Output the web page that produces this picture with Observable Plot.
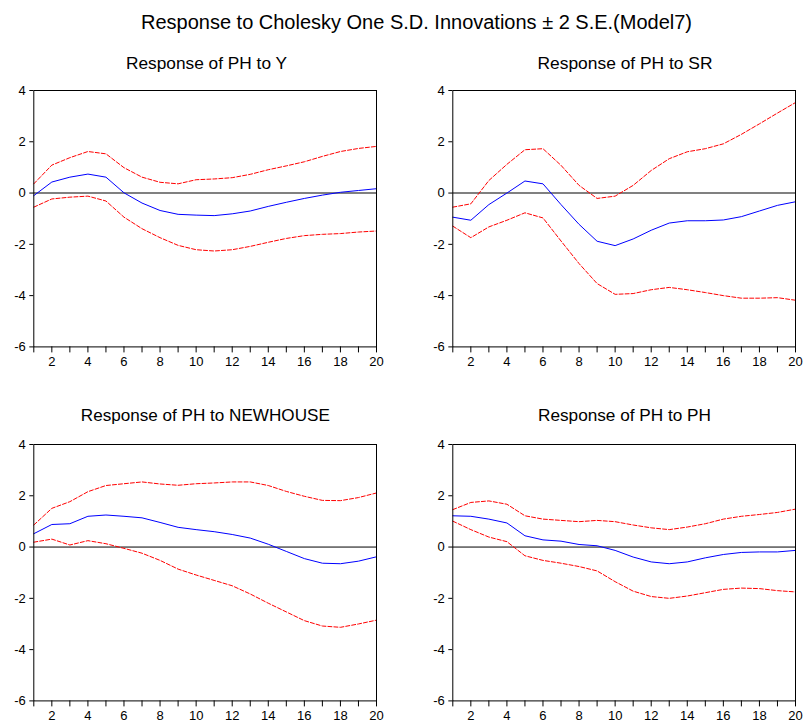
<!DOCTYPE html>
<html>
<head>
<meta charset="utf-8">
<script src="https://cdn.jsdelivr.net/npm/d3@7"></script>
<script src="https://cdn.jsdelivr.net/npm/@observablehq/plot@0.6"></script>
<style>
  html, body { margin: 0; padding: 0; background: #fff; overflow: hidden; }
  #root { position: relative; width: 805px; height: 722px; background: #fff; }
  .panel { position: absolute; }
  #titles { position: absolute; left: 0; top: 0; pointer-events: none; }
</style>
</head>
<body>
<div id="root"></div>
<script>
// ---- data ----
const periods = [1,2,3,4,5,6,7,8,9,10,11,12,13,14,15,16,17,18,19,20];

const mainTitle = "Response to Cholesky One S.D. Innovations \u00b1 2 S.E.(Model7)";
const panelTitles = ["Response of PH to Y", "Response of PH to SR", "Response of PH to NEWHOUSE", "Response of PH to PH"];

const yResp  = [-0.10,0.43,0.62,0.74,0.62,0.01,-0.39,-0.68,-0.83,-0.86,-0.88,-0.81,-0.70,-0.52,-0.36,-0.21,-0.08,0.03,0.10,0.17];
const yUpper = [0.36,1.09,1.38,1.62,1.53,0.99,0.62,0.42,0.36,0.52,0.55,0.60,0.73,0.91,1.06,1.22,1.43,1.62,1.74,1.82];
const yLower = [-0.55,-0.23,-0.16,-0.12,-0.31,-0.94,-1.39,-1.74,-2.04,-2.21,-2.26,-2.21,-2.08,-1.92,-1.77,-1.66,-1.61,-1.58,-1.52,-1.48];

const srResp  = [-0.94,-1.06,-0.45,0.00,0.47,0.36,-0.45,-1.22,-1.88,-2.05,-1.79,-1.45,-1.17,-1.08,-1.08,-1.05,-0.92,-0.70,-0.48,-0.34];
const srUpper = [-0.55,-0.42,0.49,1.12,1.69,1.73,1.08,0.30,-0.21,-0.12,0.30,0.88,1.34,1.61,1.73,1.92,2.29,2.70,3.12,3.53];
const srLower = [-1.29,-1.74,-1.32,-1.06,-0.77,-0.97,-1.87,-2.75,-3.53,-3.95,-3.92,-3.77,-3.68,-3.77,-3.88,-4.00,-4.10,-4.10,-4.08,-4.18];

const nhResp  = [0.52,0.88,0.91,1.20,1.25,1.20,1.14,0.96,0.77,0.68,0.60,0.49,0.35,0.11,-0.17,-0.45,-0.63,-0.65,-0.55,-0.38];
const nhUpper = [0.86,1.51,1.77,2.16,2.40,2.47,2.54,2.46,2.41,2.47,2.50,2.54,2.54,2.40,2.17,1.98,1.82,1.81,1.93,2.11];
const nhLower = [0.19,0.31,0.08,0.25,0.13,-0.05,-0.24,-0.52,-0.86,-1.09,-1.30,-1.51,-1.83,-2.19,-2.53,-2.87,-3.08,-3.13,-3.00,-2.85];

const phResp  = [1.22,1.20,1.09,0.94,0.44,0.28,0.23,0.10,0.05,-0.13,-0.39,-0.58,-0.65,-0.58,-0.42,-0.29,-0.21,-0.19,-0.19,-0.13];
const phUpper = [1.46,1.74,1.80,1.67,1.22,1.09,1.04,0.99,1.04,0.99,0.86,0.75,0.68,0.78,0.91,1.09,1.20,1.27,1.35,1.48];
const phLower = [1.01,0.68,0.39,0.21,-0.34,-0.52,-0.63,-0.76,-0.93,-1.35,-1.72,-1.93,-2.00,-1.91,-1.78,-1.65,-1.60,-1.62,-1.70,-1.75];

const yTicks = [-6,-4,-2,0,2,4];

// ---- layout ----
const root = document.getElementById("root");
const panels = [
  {resp: yResp,  up: yUpper,  lo: yLower,  left: 0,     top: 80,    zero: {stroke:"#808080", strokeWidth:2}},
  {resp: srResp, up: srUpper, lo: srLower, left: 419.4, top: 80,    zero: {stroke:"#808080", strokeWidth:2}},
  {resp: nhResp, up: nhUpper, lo: nhLower, left: 0,     top: 434.3, zero: {stroke:"#000", strokeWidth:1}},
  {resp: phResp, up: phUpper, lo: phLower, left: 419.4, top: 434.3, zero: {stroke:"#000", strokeWidth:1}}
];

panels.forEach(p => {
  const rows = periods.map((t, i) => ({t, resp: p.resp[i], up: p.up[i], lo: p.lo[i]}));
  const chart = Plot.plot({
    width: 390, height: 287,
    marginLeft: 33.3, marginRight: 14, marginTop: 10, marginBottom: 20.6,
    style: {fontFamily: "'Liberation Sans', Arial, sans-serif", fontSize: "13px", color: "#000", background: "#fff", overflow: "visible"},
    x: {domain: [1, 20]},
    y: {domain: [-6, 4]},
    marks: [
      Plot.ruleY([0], p.zero),
      Plot.line(rows, {x: "t", y: "up", stroke: "#ff0000", strokeWidth: 1, strokeDasharray: "4,2"}),
      Plot.line(rows, {x: "t", y: "lo", stroke: "#ff0000", strokeWidth: 1, strokeDasharray: "4,2"}),
      Plot.line(rows, {x: "t", y: "resp", stroke: "#0000ff", strokeWidth: 1}),
      Plot.frame({stroke: "#000", strokeWidth: 1}),
      Plot.axisX({ticks: periods, tickFormat: d => d % 2 === 0 ? String(d) : "", tickSize: 6, tickPadding: 4, fontSize: 13, label: null}),
      Plot.axisY({ticks: yTicks, tickFormat: d => String(d), tickSize: 4, tickPadding: 4, fontSize: 13, label: null})
    ]
  });
  chart.classList.add("panel");
  chart.style.left = p.left + "px";
  chart.style.top = p.top + "px";
  chart.style.position = "absolute";
  root.appendChild(chart);
});

// ---- titles (real text) ----
const ns = "http://www.w3.org/2000/svg";
const tsvg = document.createElementNS(ns, "svg");
tsvg.setAttribute("id", "titles");
tsvg.setAttribute("width", 805);
tsvg.setAttribute("height", 722);
const titleSpecs = [
  {text: mainTitle,      x: 416.5, y: 29,    size: 19.5, len: 551},
  {text: panelTitles[0], x: 206.5, y: 69,    size: 17,   len: 161},
  {text: panelTitles[1], x: 625,   y: 69,    size: 17,   len: 175},
  {text: panelTitles[2], x: 205.3, y: 420.7, size: 17,   len: 249},
  {text: panelTitles[3], x: 624.5, y: 420.7, size: 17,   len: 173}
];
titleSpecs.forEach(s => {
  const t = document.createElementNS(ns, "text");
  t.setAttribute("x", s.x);
  t.setAttribute("y", s.y);
  t.setAttribute("text-anchor", "middle");
  t.setAttribute("font-family", "'Liberation Sans', Arial, sans-serif");
  t.setAttribute("font-size", s.size);
  t.setAttribute("fill", "#000");
  t.setAttribute("textLength", s.len);
  t.setAttribute("lengthAdjust", "spacingAndGlyphs");
  t.textContent = s.text;
  tsvg.appendChild(t);
});
root.appendChild(tsvg);
</script>
</body>
</html>
